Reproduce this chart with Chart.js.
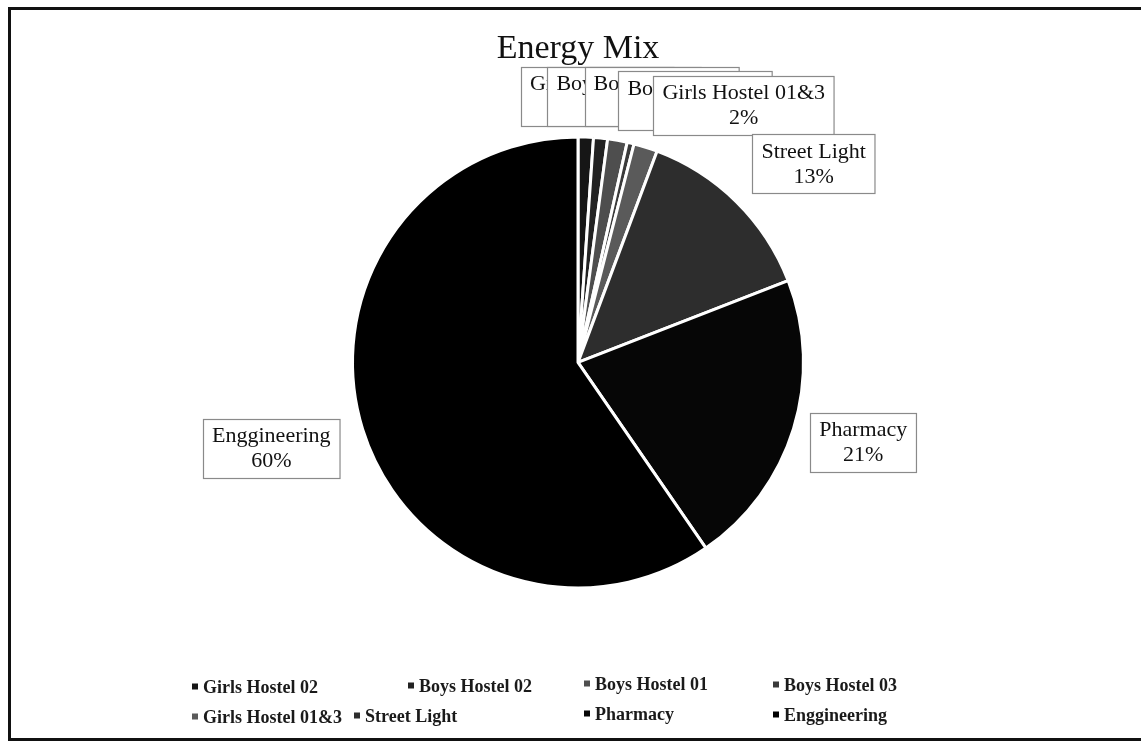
<!DOCTYPE html>
<html>
<head>
<meta charset="utf-8">
<script src="https://cdn.jsdelivr.net/npm/chart.js@4/dist/chart.umd.min.js"></script>
<style>
  html, body { margin: 0; padding: 0; background: #fff; overflow: hidden; }
  body { width: 1141px; height: 741px; position: relative; font-family: 'Liberation Serif', serif; }
  #frame { position: absolute; left: 8px; top: 7px; width: 1160px; height: 728px; border: 3px solid #111; }
  #wrap { position: absolute; left: 19px; top: 0; width: 1122px; height: 741px; }
  #legend { position: absolute; left: 0; top: 0; width: 1141px; height: 741px; pointer-events: none; }
  .item { position: absolute; font-size: 18px; font-weight: bold; color: #1a1a1a; white-space: nowrap; transform: translateY(-50%); }
  .item i { display: inline-block; width: 6px; height: 6px; margin-right: 5px; vertical-align: 3px; }
</style>
</head>
<body>
<div id="frame"></div>
<div id="wrap"><canvas id="pieChart" width="1122" height="741"></canvas></div>
<div id="legend"></div>
<script>
// data
const categories = ['Girls Hostel 02', 'Boys Hostel 02', 'Boys Hostel 01', 'Boys Hostel 03',
                    'Girls Hostel 01&3', 'Street Light', 'Pharmacy', 'Enggineering'];
const shares = [1.1, 1.0, 1.4, 0.5, 1.7, 13.4, 21.3, 59.6];

// styles
const sliceColors = ['#161616', '#222222', '#4e4e4e', '#3a3a3a', '#5a5a5a', '#2d2d2d', '#060606', '#000000'];
// label box centre, as a fraction of the pie radius from the pie centre
const labelOffsets = [[0.085, -1.18], [0.205, -1.18], [0.37, -1.18], [0.52, -1.16],
                      [0.735, -1.14], [1.045, -0.88], [1.265, 0.355], [-1.36, 0.38]];
// legend layout: [left, centre y]
const legendSpots = [[192, 687], [408, 686], [584, 684], [773, 685],
                     [192, 717], [354, 716], [584, 714], [773, 715]];

const total = shares.reduce((a, b) => a + b, 0);

// callout boxes like the excel data labels
const calloutPlugin = {
    id: 'callouts',
    afterDatasetsDraw(chart) {
        const ctx = chart.ctx;
        const arcs = chart.getDatasetMeta(0).data;
        ctx.save();
        ctx.font = '22px "Liberation Serif"';
        ctx.textAlign = 'center';
        ctx.textBaseline = 'middle';
        arcs.forEach((arc, i) => {
            const p = arc.getProps(['x', 'y', 'outerRadius'], true);
            const cx = p.x + labelOffsets[i][0] * p.outerRadius;
            const cy = p.y + labelOffsets[i][1] * p.outerRadius;
            const line1 = categories[i];
            const line2 = Math.round(shares[i] / total * 100) + '%';
            const w = Math.max(ctx.measureText(line1).width, ctx.measureText(line2).width) + 18;
            const h = 59;
            const x0 = Math.round(cx - w / 2) + 0.5, y0 = Math.round(cy - h / 2) + 0.5;
            ctx.fillStyle = '#fff';
            ctx.fillRect(x0, y0, w, h);
            ctx.strokeStyle = '#8a8a8a';
            ctx.lineWidth = 1.2;
            ctx.strokeRect(x0, y0, w, h);
            ctx.fillStyle = '#111';
            ctx.fillText(line1, cx, cy - 12);
            ctx.fillText(line2, cx, cy + 13);
        });
        ctx.restore();
    }
};

const ctxPie = document.getElementById('pieChart').getContext('2d');
new Chart(ctxPie, {
    type: 'pie',
    data: {
        labels: categories,
        datasets: [{
            data: shares,
            backgroundColor: sliceColors,
            borderColor: '#ffffff',
            borderWidth: 3
        }]
    },
    options: {
        responsive: false,
        animation: false,
        layout: { padding: { top: 0, bottom: 150, left: 332, right: 336 } },
        plugins: {
            legend: { display: false },
            tooltip: { enabled: false },
            title: {
                display: true,
                text: 'Energy Mix',
                color: '#111',
                font: { family: 'Liberation Serif', size: 34, weight: 'normal' },
                padding: { top: 29, bottom: 64 }
            }
        }
    },
    plugins: [calloutPlugin]
});

// legend
const legend = document.getElementById('legend');
categories.forEach((name, i) => {
    const el = document.createElement('div');
    el.className = 'item';
    el.style.left = legendSpots[i][0] + 'px';
    el.style.top = legendSpots[i][1] + 'px';
    el.innerHTML = '<i style="background:' + sliceColors[i] + '"></i>' + name;
    legend.appendChild(el);
});
</script>
</body>
</html>
